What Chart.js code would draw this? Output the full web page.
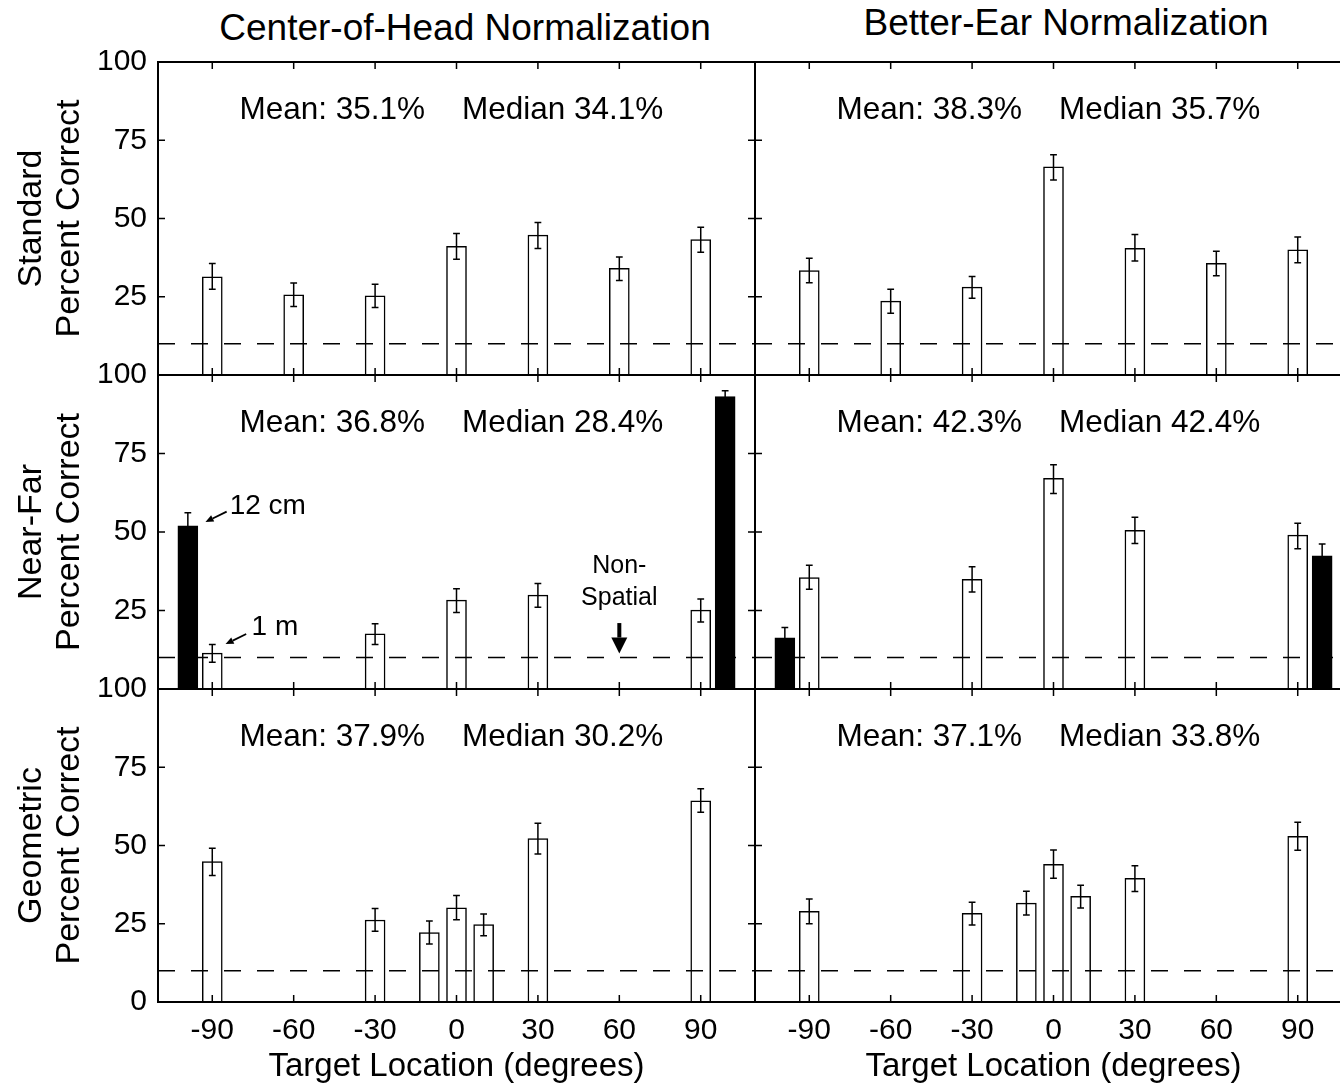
<!DOCTYPE html>
<html lang="en">
<head>
<meta charset="UTF-8">
<title>Percent correct by target location</title>
<style>
  html, body { margin: 0; padding: 0; background: #fff; overflow: hidden; }
  body { position: relative; width: 1340px; height: 1087px; font-family: "Liberation Sans", Arial, Helvetica, sans-serif; color: #000; }
  .col-title { position: absolute; font-size: 37px; line-height: 1; white-space: nowrap; transform: translateX(-50%); }
  canvas { position: absolute; }
</style>
</head>
<body>
<div class="col-title" style="left:465px; top:9px;">Center-of-Head Normalization</div>
<div class="col-title" style="left:1066px; top:4px;">Better-Ear Normalization</div>

<canvas id="stdHead" width="757" height="373" style="left:0; top:32px;"></canvas>
<canvas id="stdEar" width="601" height="373" style="left:753px; top:32px;"></canvas>
<canvas id="nfHead" width="757" height="374" style="left:0; top:345px;"></canvas>
<canvas id="nfEar" width="601" height="374" style="left:753px; top:345px;"></canvas>
<canvas id="geoHead" width="757" height="428" style="left:0; top:659px;"></canvas>
<canvas id="geoEar" width="601" height="428" style="left:753px; top:659px;"></canvas>

<script src="https://cdn.jsdelivr.net/npm/chart.js"></script>
<script>
const xTickValues = [-90, -60, -30, 0, 30, 60, 90];
const yTickValues = [0, 25, 50, 75, 100];
const chanceLevel = 10;
const rowNames = ['Standard', 'Near-Far', 'Geometric'];
const yAxisTitle = 'Percent Correct';
const xAxisTitle = 'Target Location (degrees)';

const meanLabels = ['Mean: 35.1%', 'Mean: 38.3%', 'Mean: 36.8%', 'Mean: 42.3%', 'Mean: 37.9%', 'Mean: 37.1%'];
const medianLabels = ['Median 34.1%', 'Median 35.7%', 'Median 28.4%', 'Median 42.4%', 'Median 30.2%', 'Median 33.8%'];

// Standard, center-of-head
const stdHeadX = [-90, -60, -30, 0, 30, 60, 90];
const stdHeadPct = [31.4, 25.6, 25.3, 41.1, 44.7, 34.1, 43.3];
const stdHeadLo = [27.4, 21.9, 21.6, 37.0, 40.4, 30.2, 39.2];
const stdHeadHi = [35.6, 29.4, 29.0, 45.2, 48.7, 37.7, 47.2];

// Standard, better-ear
const stdEarX = [-90, -60, -30, 0, 30, 60, 90];
const stdEarPct = [33.4, 23.6, 28.1, 66.5, 40.5, 35.7, 40.0];
const stdEarLo = [29.5, 19.7, 24.5, 62.3, 36.4, 31.7, 35.9];
const stdEarHi = [37.3, 27.4, 31.5, 70.4, 44.9, 39.5, 44.1];

// Near-far, center-of-head (1 m = open, 12 cm = filled)
const nfHeadX = [-90, -30, 0, 30, 90];
const nfHeadPct = [11.4, 17.6, 28.3, 29.9, 25.1];
const nfHeadLo = [8.5, 14.2, 24.4, 26.0, 21.3];
const nfHeadHi = [14.2, 20.8, 31.9, 33.6, 28.7];
const nfHeadNearX = [-99, 99];
const nfHeadNearPct = [52.0, 93.1];
const nfHeadNearLo = [48.0, 91.2];
const nfHeadNearHi = [56.1, 95.0];

// Near-far, better-ear
const nfEarX = [-90, -30, 0, 30, 90];
const nfEarPct = [35.5, 34.9, 67.1, 50.5, 49.0];
const nfEarLo = [31.8, 30.9, 62.3, 46.3, 44.7];
const nfEarHi = [39.4, 38.9, 71.4, 54.7, 52.8];
const nfEarNearX = [-99, 99];
const nfEarNearPct = [16.3, 42.4];
const nfEarNearLo = [13.0, 38.6];
const nfEarNearHi = [19.6, 46.2];

// Geometric, center-of-head
const geoHeadX = [-90, -30, -10, 0, 10, 30, 90];
const geoHeadPct = [44.9, 26.2, 22.2, 30.1, 24.7, 52.2, 64.3];
const geoHeadLo = [40.4, 22.6, 18.5, 26.3, 21.2, 47.3, 60.6];
const geoHeadHi = [49.1, 29.9, 25.9, 34.0, 28.1, 57.1, 68.1];

// Geometric, better-ear
const geoEarX = [-90, -30, -10, 0, 10, 30, 90];
const geoEarPct = [29.0, 28.3, 31.6, 44.0, 33.8, 39.5, 52.9];
const geoEarLo = [25.0, 24.6, 27.8, 39.5, 30.0, 35.3, 48.5];
const geoEarHi = [32.9, 31.9, 35.4, 48.6, 37.3, 43.5, 57.4];

const FONT = '"Liberation Sans", Arial, Helvetica, sans-serif';
Chart.defaults.font.family = FONT;
Chart.defaults.color = '#000';

const capHalf = 1.25;

function barPoints(xs, ys) {
    return xs.map((x, i) => ({ x: x, y: ys[i] }));
}

function whiskerPoints(xs, lo, hi) {
    const pts = [];
    xs.forEach((x, i) => {
        pts.push({ x: x, y: lo[i] }, { x: x, y: hi[i] }, { x: x, y: null });
        [lo[i], hi[i]].forEach(v => {
            pts.push({ x: x - capHalf, y: v }, { x: x + capHalf, y: v }, { x: x, y: null });
        });
    });
    return pts;
}

function drawArrow(ctx, x1, y1, x2, y2, lw, headLen, headW) {
    const ang = Math.atan2(y2 - y1, x2 - x1);
    const bx = x2 - headLen * Math.cos(ang);
    const by = y2 - headLen * Math.sin(ang);
    ctx.lineWidth = lw;
    ctx.beginPath();
    ctx.moveTo(x1, y1);
    ctx.lineTo(bx, by);
    ctx.stroke();
    ctx.beginPath();
    ctx.moveTo(x2, y2);
    ctx.lineTo(bx + headW / 2 * Math.sin(ang), by - headW / 2 * Math.cos(ang));
    ctx.lineTo(bx - headW / 2 * Math.sin(ang), by + headW / 2 * Math.cos(ang));
    ctx.closePath();
    ctx.fill();
}

// annotations of the near-far / center-of-head panel, in data units
function nearFarNotes(ctx, x, y) {
    ctx.textAlign = 'left';
    ctx.font = '28px ' + FONT;
    ctx.fillText('12 cm', x.getPixelForValue(-83.6), y.getPixelForValue(58.3));
    drawArrow(ctx, x.getPixelForValue(-84.7), y.getPixelForValue(56.5),
        x.getPixelForValue(-92.5), y.getPixelForValue(53.2), 1.8, 8, 7);
    ctx.fillText('1 m', x.getPixelForValue(-75.5), y.getPixelForValue(19.7));
    drawArrow(ctx, x.getPixelForValue(-77.5), y.getPixelForValue(17.5),
        x.getPixelForValue(-85.1), y.getPixelForValue(14.3), 1.8, 8, 7);
    ctx.textAlign = 'center';
    ctx.font = '25px ' + FONT;
    ctx.fillText('Non-', x.getPixelForValue(60), y.getPixelForValue(39.2));
    ctx.fillText('Spatial', x.getPixelForValue(60), y.getPixelForValue(29.0));
    drawArrow(ctx, x.getPixelForValue(60), y.getPixelForValue(21),
        x.getPixelForValue(60), y.getPixelForValue(11.3), 4, 16, 16);
}

const panelDecor = {
    id: 'panelDecor',
    afterDatasetsDraw(chart, args, opts) {
        const { ctx, chartArea: a } = chart;
        const x = chart.scales.x, y = chart.scales.y;
        ctx.save();
        ctx.strokeStyle = '#000';
        ctx.fillStyle = '#000';
        ctx.lineWidth = 2;
        ctx.strokeRect(a.left, a.top, a.right - a.left, a.bottom - a.top);
        // inward tick marks on all four sides
        ctx.lineWidth = 1.5;
        ctx.beginPath();
        xTickValues.forEach(v => {
            const px = x.getPixelForValue(v);
            ctx.moveTo(px, a.top); ctx.lineTo(px, a.top + 7);
            ctx.moveTo(px, a.bottom); ctx.lineTo(px, a.bottom - 7);
        });
        yTickValues.forEach(v => {
            const py = y.getPixelForValue(v);
            ctx.moveTo(a.left, py); ctx.lineTo(a.left + 7, py);
            ctx.moveTo(a.right, py); ctx.lineTo(a.right - 7, py);
        });
        ctx.stroke();
        ctx.font = '31.5px ' + FONT;
        ctx.textBaseline = 'middle';
        ctx.textAlign = 'left';
        ctx.fillText(opts.mean, x.getPixelForValue(-80), y.getPixelForValue(84.7));
        ctx.fillText(opts.median, x.getPixelForValue(2), y.getPixelForValue(84.7));
        if (opts.notes) opts.notes(ctx, x, y);
        ctx.restore();
    }
};

function makePanel(p, idx) {
    const isLeft = p.col === 0;
    const isBottom = p.row === 2;
    const allX = p.x.concat(p.nearX);
    const allLo = p.lo.concat(p.nearLo);
    const allHi = p.hi.concat(p.nearHi);

    new Chart(document.getElementById(p.id), {
        type: 'bar',
        data: {
            datasets: [
                {
                    type: 'line',
                    data: [{ x: -110, y: chanceLevel }, { x: 110, y: chanceLevel }],
                    borderColor: '#000',
                    borderWidth: 1.5,
                    borderDash: [17, 16],
                    pointRadius: 0,
                    order: 0
                },
                {
                    type: 'line',
                    data: whiskerPoints(allX, allLo, allHi),
                    borderColor: '#000',
                    borderWidth: 1.5,
                    pointRadius: 0,
                    spanGaps: false,
                    order: 1
                },
                {
                    data: barPoints(p.nearX, p.nearPct),
                    backgroundColor: '#000',
                    borderColor: '#000',
                    borderWidth: 1.5,
                    barThickness: 20,
                    grouped: false,
                    order: 2
                },
                {
                    data: barPoints(p.x, p.pct),
                    backgroundColor: '#fff',
                    borderColor: '#000',
                    borderWidth: 1.5,
                    barThickness: 20,
                    grouped: false,
                    order: 3
                }
            ]
        },
        options: {
            responsive: false,
            animation: false,
            events: [],
            layout: {
                padding: { left: isLeft ? 0 : 2, right: 2, top: 30, bottom: isBottom ? 0 : 30 }
            },
            plugins: {
                legend: { display: false },
                tooltip: { enabled: false },
                panelDecor: { mean: meanLabels[idx], median: medianLabels[idx], notes: p.notes }
            },
            scales: {
                x: {
                    type: 'linear',
                    min: -110,
                    max: 110,
                    offset: false,
                    display: isBottom,
                    grid: { display: false, drawTicks: false },
                    border: { display: false },
                    ticks: { font: { size: 30 }, padding: 11, maxRotation: 0, autoSkip: false },
                    title: { display: true, text: xAxisTitle, font: { size: 33 }, padding: 0 },
                    afterBuildTicks: s => { s.ticks = xTickValues.map(v => ({ value: v })); },
                    afterFit: s => { if (isBottom) s.height = 85; }
                },
                y: {
                    min: 0,
                    max: 100,
                    display: isLeft,
                    grid: { display: false, drawTicks: false },
                    border: { display: false },
                    ticks: { font: { size: 30 }, padding: 11 },
                    title: {
                        display: true,
                        text: [rowNames[p.row], yAxisTitle],
                        font: { size: 34, lineHeight: 1.12 },
                        padding: { top: 13, bottom: 0 }
                    },
                    afterBuildTicks: s => {
                        s.ticks = yTickValues.filter(v => isBottom || v > 0).map(v => ({ value: v }));
                    },
                    afterFit: s => { if (isLeft) s.width = 158; }
                }
            }
        },
        plugins: [panelDecor]
    });
}

const panels = [
    { id: 'stdHead', row: 0, col: 0, x: stdHeadX, pct: stdHeadPct, lo: stdHeadLo, hi: stdHeadHi,
      nearX: [], nearPct: [], nearLo: [], nearHi: [] },
    { id: 'stdEar', row: 0, col: 1, x: stdEarX, pct: stdEarPct, lo: stdEarLo, hi: stdEarHi,
      nearX: [], nearPct: [], nearLo: [], nearHi: [] },
    { id: 'nfHead', row: 1, col: 0, x: nfHeadX, pct: nfHeadPct, lo: nfHeadLo, hi: nfHeadHi,
      nearX: nfHeadNearX, nearPct: nfHeadNearPct, nearLo: nfHeadNearLo, nearHi: nfHeadNearHi, notes: nearFarNotes },
    { id: 'nfEar', row: 1, col: 1, x: nfEarX, pct: nfEarPct, lo: nfEarLo, hi: nfEarHi,
      nearX: nfEarNearX, nearPct: nfEarNearPct, nearLo: nfEarNearLo, nearHi: nfEarNearHi },
    { id: 'geoHead', row: 2, col: 0, x: geoHeadX, pct: geoHeadPct, lo: geoHeadLo, hi: geoHeadHi,
      nearX: [], nearPct: [], nearLo: [], nearHi: [] },
    { id: 'geoEar', row: 2, col: 1, x: geoEarX, pct: geoEarPct, lo: geoEarLo, hi: geoEarHi,
      nearX: [], nearPct: [], nearLo: [], nearHi: [] }
];

panels.forEach(makePanel);
</script>
</body>
</html>
